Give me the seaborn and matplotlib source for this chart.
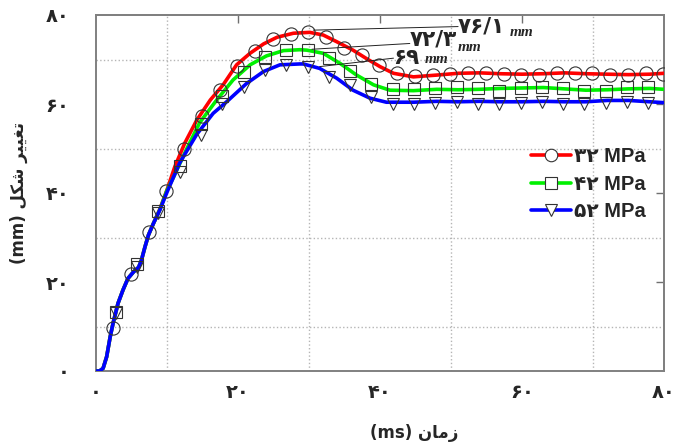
import matplotlib
matplotlib.use("Agg")
import matplotlib.pyplot as plt
from matplotlib.lines import Line2D
import seaborn as sns

# ---------------- data ----------------
# smooth curves (time ms, deformation mm)
red_x = [0, 0.5, 1.0, 1.5, 2.0, 2.4, 3.1, 3.8, 4.5, 5.3, 6.0, 6.4, 6.9, 7.4, 8.1, 9.0, 10.0, 11.1,
         12.5, 14.2, 16.1, 17.9, 19.8, 21.7, 23.6, 25.5, 27.8, 30.1, 32.0, 33.9, 36.2, 38.1, 40.0,
         41.9, 44.7, 48, 51, 54, 57, 60, 63, 66, 69, 72, 75, 78, 80]
red_y = [0, 0, 0.6, 3.2, 7.7, 10.7, 15.2, 18.2, 20.8, 22.3, 23.3, 24.9, 27.9, 30.6, 33.2, 36.4, 40.7,
         45.9, 51.2, 56.4, 60.9, 64.3, 68.8, 71.4, 73.5, 75.0, 75.9, 76.1, 75.5, 74.0, 72.1, 70.2,
         68.4, 66.9, 66.1, 66.5, 66.9, 67.0, 66.8, 66.7, 66.8, 67.0, 66.8, 66.7, 66.6, 66.7, 66.9]

green_x = [0, 0.5, 1.0, 1.5, 2.0, 2.4, 3.1, 3.8, 4.5, 5.3, 6.0, 6.4, 6.9, 7.4, 8.1, 9.0, 10.0, 10.9,
           12.8, 14.6, 17.0, 19.3, 21.7, 24.0, 26.4, 28.7, 29.7, 32.0, 34.4, 36.7, 39.1, 41.4, 44.7,
           48, 51, 54, 57, 60, 63, 66, 69, 72, 75, 78, 80]
green_y = [0, 0, 0.6, 3.2, 7.7, 10.7, 15.2, 18.2, 20.8, 22.3, 23.3, 24.9, 27.9, 30.6, 33.2, 36.3, 40.6,
           43.5, 50.0, 55.8, 60.9, 65.4, 68.8, 70.8, 72.0, 72.2, 72.1, 71.4, 69.1, 66.5, 64.3, 63.1,
           63.0, 63.3, 63.2, 63.3, 63.5, 63.6, 63.7, 63.4, 63.1, 63.2, 63.4, 63.5, 63.3]

blue_x = [0, 0.5, 1.0, 1.5, 2.0, 2.4, 3.1, 3.8, 4.5, 5.3, 6.0, 6.4, 6.9, 7.4, 8.1, 9.0, 10.0, 11.8,
          14.2, 16.5, 18.4, 21.2, 23.6, 25.9, 28.7, 29.2, 31.5, 33.9, 36.2, 38.6, 40.9, 44.7, 48, 51,
          54, 57, 60, 63, 66, 69, 72, 75, 78, 80]
blue_y = [0, 0, 0.6, 3.2, 7.7, 10.7, 15.2, 18.2, 20.8, 22.3, 23.3, 24.9, 27.9, 30.6, 33.2, 36.2, 40.2,
          46.8, 53.2, 57.9, 60.5, 64.6, 67.3, 68.8, 69.0, 69.0, 68.0, 65.8, 63.1, 61.3, 60.4, 60.4,
          60.6, 60.5, 60.6, 60.5, 60.5, 60.6, 60.5, 60.5, 60.8, 60.8, 60.5, 60.3]

# sample markers
red_mx = [2.4, 4.9, 7.4, 9.9, 12.4, 14.9, 17.4, 19.9, 22.4, 24.9, 27.4, 29.9, 32.4, 34.9, 37.4, 39.9,
          42.4, 44.9, 47.4, 49.9, 52.4, 54.9, 57.4, 59.9, 62.4, 64.9, 67.4, 69.9, 72.4, 74.9, 77.4, 79.9]
red_my = [9.6, 21.8, 31.3, 40.5, 50.0, 57.2, 63.2, 68.6, 71.9, 74.5, 75.8, 76.2, 75.1, 72.5, 70.9, 68.7,
          67.0, 66.4, 66.5, 66.7, 67.0, 67.0, 66.7, 66.5, 66.5, 66.9, 67.0, 66.9, 66.5, 66.5, 66.9, 66.7]

gb_mx = [2.8, 5.8, 8.8, 11.8, 14.8, 17.8, 20.8, 23.8, 26.8, 29.8, 32.8, 35.8, 38.8, 41.8, 44.8, 47.8,
         50.8, 53.8, 56.8, 59.8, 62.8, 65.8, 68.8, 71.8, 74.8, 77.8]
green_my = [13.3, 24.0, 36.0, 46.1, 55.6, 61.8, 67.3, 70.5, 72.1, 72.1, 70.4, 67.4, 64.5, 63.4, 63.4,
            63.5, 63.9, 63.5, 63.0, 63.5, 63.9, 63.5, 63.0, 63.0, 63.9, 63.9]
blue_my = [13.0, 23.3, 35.4, 44.8, 53.0, 60.1, 63.9, 67.6, 68.8, 68.4, 66.1, 64.3, 61.6, 59.9, 59.9,
           60.3, 60.5, 60.0, 60.0, 60.3, 60.5, 60.0, 60.0, 60.2, 60.5, 60.2]

series_labels = ["\u06f3\u06f2 MPa", "\u06f4\u06f2 MPa", "\u06f5\u06f2 MPa"]   # ۳۲ ۴۲ ۵۲ MPa
tick_values = [0, 20, 40, 60, 80]
tick_labels = ["\u06f0", "\u06f2\u06f0", "\u06f4\u06f0", "\u06f6\u06f0", "\u06f8\u06f0"]  # ۰ ۲۰ ۴۰ ۶۰ ۸۰
peak_labels = ["\u06f7\u06f6/\u06f1", "\u06f7\u06f2/\u06f3", "\u06f6\u06f9"]   # ۷۶/۱ ۷۲/۳ ۶۹

# Persian labels, shaped into presentation forms in visual order
# logical: "زمان (ms)"
xlabel_txt = "(ms) \ufee5\ufe8e\ufee3\ufeaf"
# logical: "تغییر شکل (mm)"
ylabel_txt = "(mm) \ufede\ufb91\ufeb7 \ufeae\ufbff\ufbff\ufed0\ufe97"

# ---------------- figure ----------------
sns.set_style("white")
plt.rcParams["font.family"] = ["DejaVu Sans"]

fig = plt.figure(figsize=(6.78, 4.46), dpi=100)
ax = fig.add_axes([96 / 678, 75 / 446, 568 / 678, 356 / 446])

colors = ["#ff0000", "#00f000", "#0000ff"]
lines = [(red_x, red_y), (green_x, green_y), (blue_x, blue_y)]
marks = [(red_mx, red_my, "o", 9.5), (gb_mx, green_my, "s", 8.5), (gb_mx, blue_my, "v", 9)]

for (lx, ly), c in zip(lines, colors):
    sns.lineplot(x=lx, y=ly, ax=ax, color=c, lw=2.6, sort=False, estimator=None, zorder=3)
for (mx, my, m, ms) in marks:
    sns.lineplot(x=mx, y=my, ax=ax, linestyle="", marker=m, markersize=ms, markerfacecolor="none",
                 markeredgecolor="#333333", markeredgewidth=0.8, sort=False, estimator=None, zorder=4)

ax.set_xlim(0, 80)
ax.set_ylim(0, 80)
ax.set_xticks(tick_values)
ax.set_yticks(tick_values)
ax.set_xticklabels(tick_labels, fontsize=14, fontweight="bold")
ax.set_yticklabels(tick_labels, fontsize=14, fontweight="bold")
ax.set_xticks([10, 30, 50, 70], minor=True)
ax.set_yticks([10, 30, 50, 70], minor=True)
ax.grid(which="minor", linestyle=":", color="#b5b5b5", linewidth=1.0)
ax.grid(which="major", visible=False)
ax.tick_params(axis="x", which="major", direction="inout", length=10, width=1.0, color="#707070",
               pad=4, top=False)
ax.tick_params(axis="y", which="major", direction="out", length=6, width=1.0, color="#707070",
               pad=13, right=False)
ax.tick_params(axis="both", which="minor", direction="in", length=5, width=1.0, color="#909090")
for s in ax.spines.values():
    s.set_color("#808080")
    s.set_linewidth(1.4)

# inward ticks on top and right edges
sec_x = ax.secondary_xaxis("top")
sec_x.set_xticks([20, 40, 60])
sec_x.set_xticklabels([])
sec_x.tick_params(direction="in", length=6, width=1.0, color="#707070")
sec_x.spines["top"].set_color("#808080")
sec_x.spines["top"].set_linewidth(1.4)
sec_y = ax.secondary_yaxis("right")
sec_y.set_yticks([20, 40, 60])
sec_y.set_yticklabels([])
sec_y.tick_params(direction="in", length=6, width=1.0, color="#707070")
sec_y.spines["right"].set_color("#808080")
sec_y.spines["right"].set_linewidth(1.4)

ax.set_xlabel(xlabel_txt, fontsize=12, fontweight="bold")
ax.xaxis.set_label_coords(0.56, -0.148)
ax.set_ylabel(ylabel_txt, fontsize=12, fontweight="bold")
ax.yaxis.set_label_coords(-0.12, 0.5)

# leader lines & peak annotations
leaders = [((30.6, 51.0), (76.6, 77.4)), ((30.4, 44.2), (72.3, 73.6)), ((31.5, 41.9), (68.4, 70.3))]
for (lx, ly) in leaders:
    sns.lineplot(x=list(lx), y=list(ly), ax=ax, color="#222222", lw=0.7, sort=False, estimator=None,
                 zorder=5)
txt_pos = [(51.0, 77.4), (44.2, 74.5), (41.8, 70.3)]
mm_pos = [(58.2, 76.0), (51.0, 72.8), (46.3, 70.0)]
for lab, (tx, ty), (mxp, myp) in zip(peak_labels, txt_pos, mm_pos):
    ax.text(tx, ty, lab, fontsize=15.5, fontweight="bold", va="center", ha="left", zorder=6)
    ax.text(mxp, myp, "mm", fontsize=11, fontstyle="italic", fontweight="bold",
            family=["Liberation Serif"], va="center", ha="left", zorder=6)

handles = []
for c, (mx, my, m, ms) in zip(colors, marks):
    handles.append(Line2D([0], [0], color=c, lw=2.6, marker=m, markersize=ms - 0.5,
                          markerfacecolor="white", markeredgecolor="#333333", markeredgewidth=0.8))
leg = ax.legend(handles, series_labels, loc="upper left", bbox_to_anchor=(517 / 678, 1 - 133 / 446),
                bbox_transform=fig.transFigure, frameon=False, handlelength=2.0, handletextpad=0.15,
                labelspacing=0.42, borderpad=0.2,
                prop={"family": ["Liberation Sans", "DejaVu Sans"], "weight": "bold", "size": 14.5})

fig.savefig("out.png", dpi=100)
